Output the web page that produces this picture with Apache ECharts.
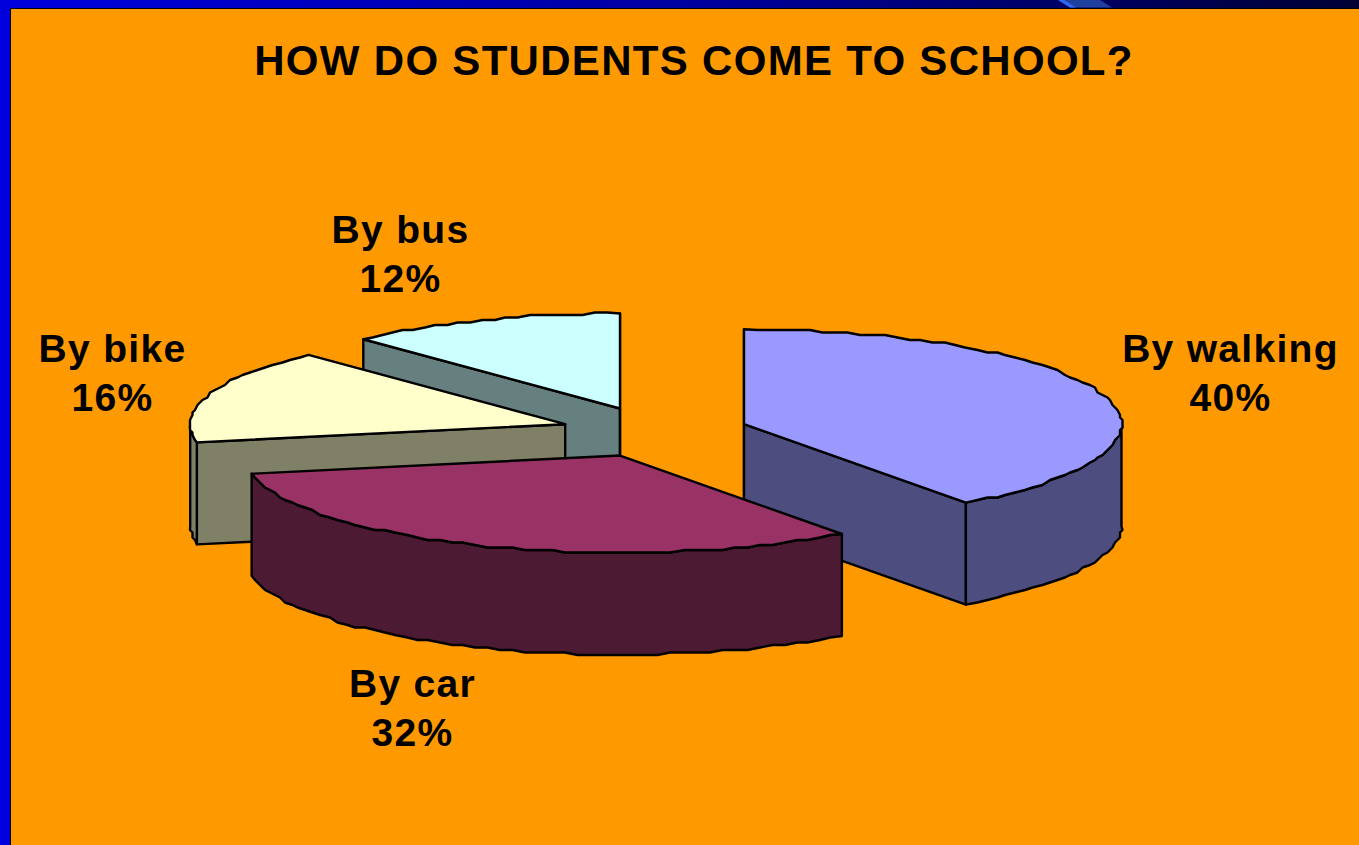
<!DOCTYPE html>
<html><head><meta charset="utf-8">
<style>html,body{margin:0;padding:0;background:#FF9900;overflow:hidden}#c{width:1359px;height:845px}#c text{letter-spacing:1.3px}</style>
<script src="https://cdn.jsdelivr.net/npm/echarts@6/dist/echarts.min.js"></script>
</head><body><div id="c"></div>
<script>
const categories = ['By walking', 'By car', 'By bike', 'By bus'];
const shares = [40, 32, 16, 12];

const topColors = ['#9999FF', '#993366', '#FFFFCC', '#CCFFFF'];
const wallColors = ['#4D4D80', '#4D1A33', '#808066', '#668080'];
const paintRank = [2, 3, 1, 0];
const labelAnchors = [[1230.5, 373], [412.5, 708], [112.5, 373], [400.5, 254]];
const PIE = { cx: 654.6, cy: 432, rxRight: 377.5, rxLeft: 375, ryTop: 95, ryBottom: 97, depth: 102, explode: 94, explodeY: 25.3, snap: 2.5 };
const FONT = '"Liberation Sans", Arial, sans-serif';

const total = shares.reduce((a, b) => a + b, 0);
function bounds(i) {
  let s = 0;
  for (let k = 0; k < i; k++) s += shares[k];
  return [s / total * Math.PI * 2, (s + shares[i]) / total * Math.PI * 2];
}
function rim(c, t) {
  const s = Math.sin(t), co = Math.cos(t);
  return [c[0] + (s >= 0 ? PIE.rxRight : PIE.rxLeft) * s, c[1] - (co >= 0 ? PIE.ryTop : PIE.ryBottom) * co];
}
function arc(c, a0, a1, dy) {
  const pts = [];
  const n = Math.max(2, Math.round((a1 - a0) / 0.035));
  for (let j = 0; j <= n; j++) {
    const p = rim(c, a0 + (a1 - a0) * j / n);
    let x = p[0], y = p[1] + dy;
    if (j > 0 && j < n) { x = Math.round(x / PIE.snap) * PIE.snap; y = Math.round(y / PIE.snap) * PIE.snap; }
    pts.push([x, y]);
  }
  return pts;
}
function renderItem(params) {
  const i = params.dataIndex;
  const [a0, a1] = bounds(i);
  const mid = (a0 + a1) / 2;
  const c = [PIE.cx + PIE.explode * Math.sin(mid), PIE.cy - PIE.explodeY * Math.cos(mid)];
  const z = paintRank[i] * 10;
  const stroke = { stroke: '#000', lineWidth: 2.4, lineJoin: 'round' };
  const poly = (pts, fill, dz) => ({
    type: 'polygon', z2: z + dz, silent: true,
    shape: { points: pts }, style: Object.assign({ fill }, stroke)
  });
  const children = [];
  const face = (t) => {
    const p = rim(c, t);
    return poly([c, p, [p[0], p[1] + PIE.depth], [c[0], c[1] + PIE.depth]], wallColors[i], 1);
  };
  if (-Math.sin(a0) > -1e-9) children.push(face(a0));
  if (Math.sin(a1) > -1e-9) children.push(face(a1));
  const w0 = Math.max(a0, Math.PI / 2), w1 = Math.min(a1, Math.PI * 1.5);
  if (w1 > w0) {
    const top = arc(c, w0, w1, 0), bot = arc(c, w0, w1, PIE.depth).reverse();
    children.push(poly(top.concat(bot), wallColors[i], 2));
  }
  children.push(poly([c].concat(arc(c, a0, a1, 0)), topColors[i], 3));
  const p = labelAnchors[i];
  children.push({
    type: 'text', z2: 100, silent: true, x: p[0], y: p[1],
    style: {
      text: categories[i] + '\n' + shares[i] + '%', fill: '#000', align: 'center', verticalAlign: 'middle',
      font: 'bold 39px ' + FONT, lineHeight: 49
    }
  });
  return { type: 'group', children };
}
const chart = echarts.init(document.getElementById('c'), null, { renderer: 'svg' });
chart.setOption({
  animation: false,
  backgroundColor: '#FF9900',
  title: {
    text: 'HOW DO STUDENTS COME TO SCHOOL?', left: 689, top: 34, textAlign: 'center',
    textStyle: { fontFamily: FONT, fontWeight: 'bold', fontSize: 42, color: '#000' }
  },
  graphic: [
    { type: 'rect', z: 10, silent: true, shape: { x: 0, y: 0, width: 1359, height: 8 },
      style: { fill: new echarts.graphic.LinearGradient(0, 0, 1, 0, [
        { offset: 0, color: '#0000DD' }, { offset: 0.5, color: '#0000A0' }, { offset: 0.78, color: '#000066' }, { offset: 1, color: '#000033' }]) } },
    { type: 'polygon', z: 11, silent: true, shape: { points: [[1058, 0], [1100, 0], [1112, 7.5], [1070, 7.5]] }, style: { fill: '#2040A0' } },
    { type: 'polygon', z: 12, silent: true, shape: { points: [[1058, 0], [1064, 0], [1076, 7.5], [1070, 7.5]] }, style: { fill: '#3366EE' } },
    { type: 'rect', z: 10, silent: true, shape: { x: 0, y: 0, width: 10, height: 845 }, style: { fill: '#0000DD' } },
    { type: 'rect', z: 10, silent: true, shape: { x: 10, y: 8, width: 1349, height: 1 }, style: { fill: '#000' } },
    { type: 'rect', z: 10, silent: true, shape: { x: 10, y: 8, width: 1, height: 837 }, style: { fill: '#000' } }
  ],
  series: [{
    type: 'custom', coordinateSystem: 'none', renderItem,
    data: shares.map((v, i) => ({ name: categories[i], value: v })), silent: true
  }]
});
</script></body></html>
